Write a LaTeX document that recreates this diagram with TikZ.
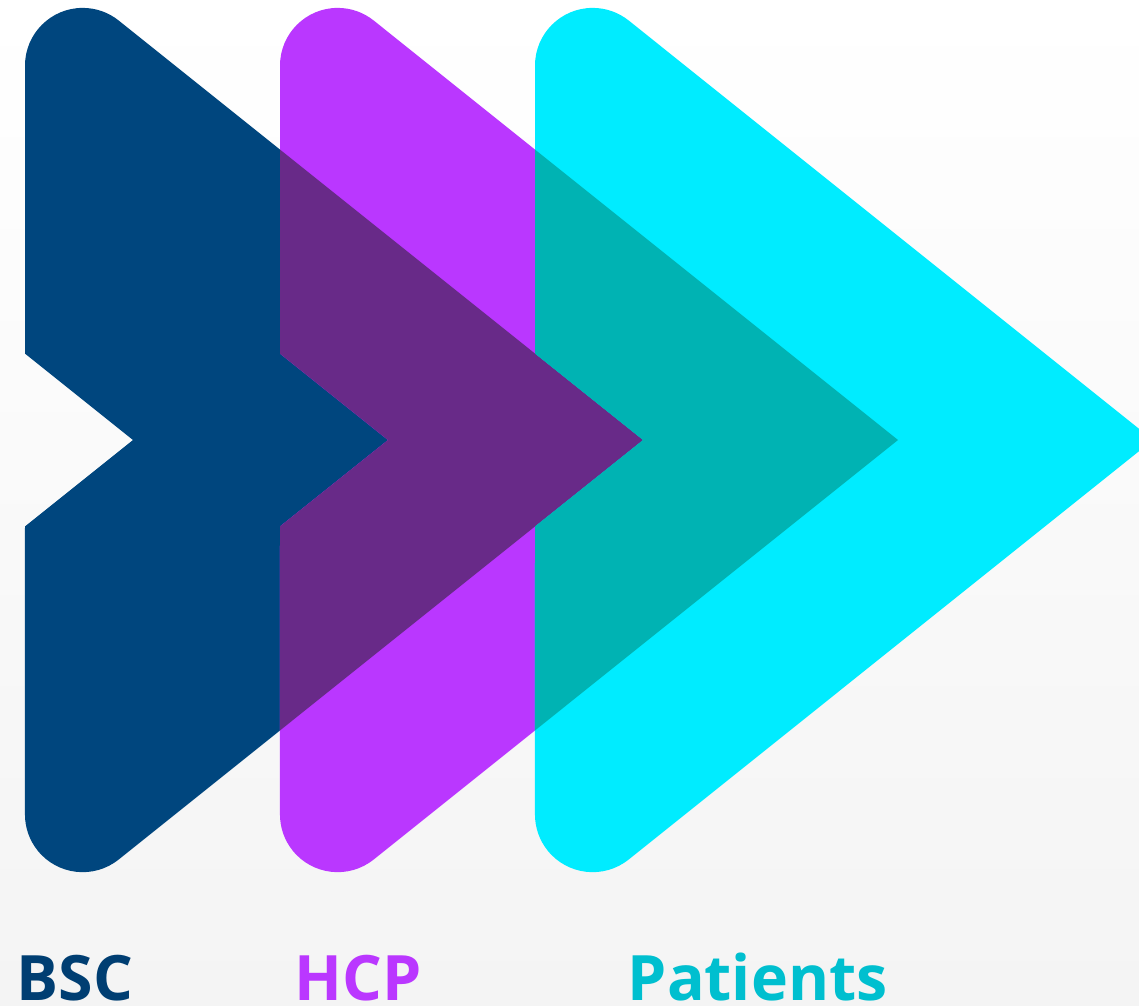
\documentclass[tikz,border=0pt]{standalone}
\usepackage{fontspec}
\setmainfont{Open Sans}
\usepackage{tikz}
\definecolor{bsc}{RGB}{0,70,126}
\definecolor{hcp}{RGB}{186,55,255}
\definecolor{pat}{RGB}{0,236,255}
\definecolor{bschcp}{RGB}{104,42,136}
\definecolor{hcppat}{RGB}{0,179,179}
\definecolor{bsctext}{RGB}{0,62,114}
\definecolor{pattext}{RGB}{0,191,207}
\definecolor{bgbot}{RGB}{244,244,244}
\newcommand{\chevron}[1]{(#1+133,440) -- (#1+25,353.6) -- (#1+25,65.6)
  arc[start angle=180,end angle=308.66,radius=57.7] -- (#1+643,440) -- (#1+118.7,859.5)
  arc[start angle=51.34,end angle=180,radius=57.7] -- (#1+25,526.4) -- cycle}
\tikzset{label text/.style={anchor=base west, inner sep=0, font=\fontsize{17.8}{18}\selectfont\bfseries}}

\begin{document}
\begin{tikzpicture}[x=0.01cm,y=-0.01cm]
\useasboundingbox (0,0) rectangle (1139,1006);
\clip (0,0) rectangle (1139,1006);
\shade[top color=white,bottom color=bgbot] (0,0) rectangle (1139,1006);
\fill[bsc] \chevron{0};
\fill[hcp] \chevron{255};
\fill[pat] \chevron{510};
\begin{scope}
\clip \chevron{0};
\fill[bschcp] \chevron{255};
\end{scope}
\begin{scope}
\clip \chevron{255};
\fill[hcppat] \chevron{510};
\end{scope}
\node[label text, text=bsctext] (bsc) at (16,1000) {BSC};
\node[label text, text=hcp] (hcp) at (294,1000) {HCP};
\node[label text, text=pattext] (patients) at (627,1000) {Patients};
\end{tikzpicture}
\end{document}
